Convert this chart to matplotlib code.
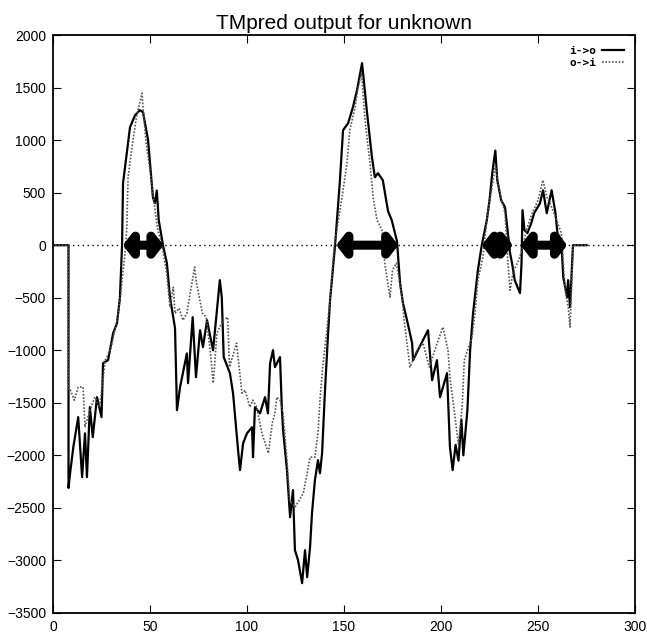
import matplotlib as mpl
import matplotlib.pyplot as plt

############################
#% DATA
############################
# i->o (solid line): sequence position, score
io_pos = [1, 8, 8, 9, 10.5, 13, 15, 16.5, 17.5, 19, 20.5, 22.7, 25, 25.8, 28.4, 31, 33,
          34.5, 35.6, 36.1, 39.7, 42.3, 44.8, 46.4, 49, 51.5, 52.5, 53.5, 54.5, 56.7,
          58.7, 60.3, 62.9, 63.9, 65.5, 69, 69.6, 72, 73.7, 75.8, 77.3, 79.4, 82.5,
          84.5, 86, 87, 88, 91.2, 92.8, 95.4, 96.4, 98, 100, 102.6, 103.1, 104.1,
          106.7, 109.3, 110.8, 111.9, 113.4, 114.4, 117, 118, 118.6, 120.6, 122.2,
          123.7, 124.7, 126.3, 128.4, 129.9, 131, 132.5, 133.5, 135, 136.6, 137.6,
          138.7, 140.2, 141.8, 142.8, 145.4, 147.9, 149.5, 152.1, 154.6, 156.7, 159.3,
          161.9, 163.4, 164.4, 165.9, 167.5, 170, 172.7, 174.6, 177.3, 178.9, 180.4,
          182.5, 185.1, 185.6, 188.1, 190.7, 193.3, 195.4, 197.9, 199.5, 203.1, 204.6,
          206, 207.5, 209, 210.5, 211.5, 213.6, 215, 216.5, 219, 221, 223.6, 225,
          226.5, 228, 229, 231, 233, 234.5, 235.6, 236.6, 238, 240.7, 241.5, 242, 243,
          244.5, 246.5, 248, 251, 252.6, 254.5, 257, 259, 260, 262, 263, 265, 265.5,
          266.5, 267.5, 268, 275]
io_val = [0, 0, -2310, -2140, -1920, -1636, -2207, -1790, -2207, -1540, -1826, -1446,
          -1636, -1123, -1094, -837, -742, -500, 0, 590, 1123, 1237, 1285, 1265, 1000,
          457, 400, 520, 238, 0, -171, -495, -790, -1570, -1350, -1030, -1313, -685,
          -1256, -809, -970, -714, -1000, -618, -333, -495, -1065, -1218, -1408, -1950,
          -2140, -1884, -1790, -1732, -2017, -1541, -1600, -1446, -1600, -1123, -999,
          -1160, -1065, -1570, -1760, -2140, -2588, -2331, -2902, -2997, -3216, -2902,
          -3159, -2873, -2550, -2236, -2046, -2170, -1980, -1380, -837, -523, 0, 618,
          1094, 1160, 1313, 1475, 1732, 1256, 1000, 837, 647, 685, 618, 323, 238, 38,
          -362, -552, -714, -932, -1094, -999, -904, -809, -1285, -1094, -1446, -1218,
          -1922, -2140, -1900, -2050, -1660, -2000, -1570, -1000, -650, -238, 0, 238,
          428, 700, 900, 618, 428, 361, 114, -76, -171, -333, -457, -171, 333, 143, 114,
          209, 304, 399, 523, 304, 523, 304, 114, 48, -304, -495, -333, -590, -209, 0, 0]

# o->i (dotted line)
oi_pos = [1, 8, 8, 9, 11, 13, 15.5, 16.5, 19, 21.6, 24, 27, 30, 33, 34.5, 37, 38, 38.7,
          40.7, 43, 45.9, 46.4, 48, 50, 52.6, 54, 56, 58.6, 60.3, 62, 62.9, 65, 67, 69,
          71.6, 73, 74, 77, 79, 81, 82.6, 84.5, 87.6, 90, 91, 94.6, 97.4, 99, 101.5,
          103, 105, 107.7, 111, 113, 114.4, 115.4, 117, 118.6, 120.6, 122, 124.7, 127,
          129, 131, 132.5, 135, 136.6, 137.6, 139, 141, 142.8, 145, 149, 151.5, 153,
          155.7, 157, 159, 161, 163.4, 165, 167, 169.6, 171, 173.7, 175, 177, 180, 181,
          184, 187.6, 190.7, 194, 198, 201, 203.6, 204.6, 207, 209, 211, 212, 216,
          217.5, 219, 221.6, 224, 226, 228, 230, 233, 234.5, 235.6, 237, 240, 241.7,
          244, 247, 250, 252.5, 254.6, 257, 259.6, 262, 264, 265.6, 266.5, 267.5, 268,
          275]
oi_val = [0, 0, -1380, -1380, -1475, -1350, -1350, -1732, -1570, -1446, -1541, -1094,
          -970, -714, -523, -100, 143, 647, 932, 1218, 1446, 1313, 970, 714, 333, 143,
          19, -266, -590, -400, -650, -600, -714, -647, -362, -209, -362, -647, -685,
          -1000, -1313, -837, -714, -685, -1160, -932, -1408, -1380, -1541, -1475,
          -1541, -1789, -1980, -1694, -1600, -1446, -1475, -1600, -2046, -2426, -2493,
          -2426, -2360, -2170, -2017, -2017, -1789, -1475, -1160, -837, -523, 0, 457,
          780, 1094, 1313, 1475, 1637, 1160, 780, 457, 238, 143, -171, -495, -238, -171,
          -495, -714, -1160, -999, -932, -1160, -932, -780, -999, -1256, -1600, -1900,
          -1500, -1094, -875, -650, -333, -114, 304, 523, 760, 523, 304, -171, -428,
          -266, -143, -48, 143, 304, 428, 620, 457, 361, 238, 114, -428, -590, -780,
          -300, 0, 0]

# predicted transmembrane helices (start, end)
tm_start = [36, 146, 221, 241]
tm_end = [57, 178, 237, 265]

xticks = [0, 50, 100, 150, 200, 250, 300]
yticks = list(range(-3500, 2001, 500))

############################
#% PLOT SETTINGS
############################
plt.rc('font', family=['Liberation Sans', 'DejaVu Sans'], size=10)
plt.rc('xtick', direction='in', top=True, labelsize=10)
plt.rc('ytick', direction='in', right=True, labelsize=10)
plt.rc('axes', linewidth=1.3)
mpl.rcParams['xtick.major.size'] = 6
mpl.rcParams['ytick.major.size'] = 6
mpl.rcParams['xtick.major.pad'] = 5
mpl.rcParams['ytick.major.pad'] = 5

fig = plt.figure(figsize=(6.47, 6.33), dpi=100)
ax = fig.add_axes([0.0819, 0.0316, 0.8996, 0.9131])

# zero line
ax.axhline(0, color='k', lw=1, linestyle=(0, (1, 2.5)))

ax.plot(io_pos, io_val, color='k', lw=1.6, label='i->o')
ax.plot(oi_pos, oi_val, color='#555555', lw=1.2, linestyle=(0, (1, 1)), label='o->i')

# double headed arrows for the TM segments
for s, e in zip(tm_start, tm_end):
    ax.annotate('', xy=(e, 0), xytext=(s, 0),
                arrowprops=dict(arrowstyle='<|-|>,head_length=0.5,head_width=0.65',
                                lw=6.5, color='k', shrinkA=0, shrinkB=0,
                                mutation_scale=10, joinstyle='round'))

ax.set_xlim(0, 300)
ax.set_ylim(-3500, 2000)
ax.set_xticks(xticks)
ax.set_yticks(yticks)
ax.set_title('TMpred output for unknown', fontsize=15, pad=4)

leg = ax.legend(loc='upper right', frameon=False, markerfirst=False,
                handlelength=2.0, handletextpad=0.5, labelspacing=0.15,
                borderaxespad=0.6,
                prop={'family': 'DejaVu Sans Mono', 'size': 8, 'weight': 'bold'})

fig.savefig('out.png', dpi=100)
